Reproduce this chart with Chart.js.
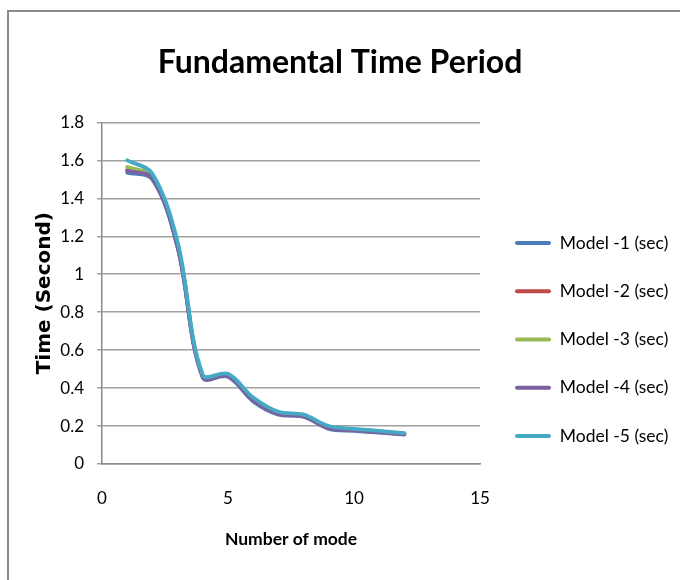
<!DOCTYPE html>
<html>
<head>
<meta charset="utf-8">
<script src="https://cdn.jsdelivr.net/npm/chart.js@4/dist/chart.umd.min.js"></script>
<style>
  html, body { margin: 0; padding: 0; background: #ffffff; }
  canvas { display: block; }
</style>
</head>
<body>
<canvas id="c" width="680" height="580"></canvas>
<script>
// ---------- data ----------
const TITLE = 'Fundamental Time Period';
const X_TITLE = 'Number of mode';
const Y_TITLE = 'Time (Second)';
const MODES = [1, 2, 3, 4, 5, 6, 7, 8, 9, 10, 11, 12];
const SERIES_NAMES = ['Model -1 (sec)', 'Model -2 (sec)', 'Model -3 (sec)', 'Model -4 (sec)', 'Model -5 (sec)'];
const MODEL_1 = [1.535, 1.50, 1.14, 0.455, 0.46, 0.33, 0.26, 0.25, 0.185, 0.175, 0.165, 0.155];
const MODEL_2 = [1.55, 1.51, 1.15, 0.46, 0.465, 0.34, 0.265, 0.255, 0.19, 0.18, 0.17, 0.158];
const MODEL_3 = [1.565, 1.515, 1.16, 0.465, 0.47, 0.345, 0.27, 0.255, 0.195, 0.18, 0.17, 0.16];
const MODEL_4 = [1.545, 1.505, 1.145, 0.46, 0.465, 0.335, 0.265, 0.25, 0.19, 0.178, 0.168, 0.157];
const MODEL_5 = [1.60, 1.53, 1.17, 0.47, 0.475, 0.35, 0.275, 0.26, 0.20, 0.185, 0.175, 0.162];
const X_TICKS = [0, 5, 10, 15];
const X_TICK_LABELS = ['0', '5', '10', '15'];
const Y_TICKS = [0, 0.2, 0.4, 0.6, 0.8, 1.0, 1.2, 1.4, 1.6, 1.8];
const Y_TICK_LABELS = ['0', '0.2', '0.4', '0.6', '0.8', '1', '1.2', '1.4', '1.6', '1.8'];

// ---------- styles ----------
const COLORS = ['#4A7EBB', '#BE4B48', '#98B954', '#7D60A0', '#46AAC5'];
const SANS = "Lato, 'DejaVu Sans Condensed', sans-serif";
const WIDE = "'DejaVu Sans', Verdana, sans-serif";

const SERIES = [MODEL_1, MODEL_2, MODEL_3, MODEL_4, MODEL_5];
const datasets = SERIES.map((vals, i) => ({
  label: SERIES_NAMES[i],
  data: MODES.map((m, j) => ({ x: m, y: vals[j] })),
  borderColor: COLORS[i],
  backgroundColor: COLORS[i],
  borderWidth: 3.8,
  borderCapStyle: 'round',
  borderJoinStyle: 'round',
  pointRadius: 0,
  showLine: true,
  tension: 0.35,
  order: SERIES.length - 1 - i
}));

const frame = {
  id: 'frame',
  beforeDraw(chart) {
    const ctx = chart.ctx;
    ctx.save();
    ctx.fillStyle = '#ffffff';
    ctx.fillRect(0, 0, chart.width, chart.height);
    ctx.strokeStyle = '#8a8a8a';
    ctx.lineWidth = 2;
    ctx.strokeRect(8, 11, 720, 620);
    ctx.restore();
  }
};

const LEGEND_FONT = 17.5;
const LEGEND_PAD = 30.75;
const legendPlace = {
  id: 'legendPlace',
  beforeLayout(chart) {
    const lg = chart.legend;
    if (lg && !lg._fixedFit) {
      const orig = lg.fit;
      lg.fit = function () { orig.call(this); this.width = 200; };
      lg._fixedFit = true;
    }
  },
  afterLayout(chart) {
    const lg = chart.legend;
    lg.left += 4.25; lg.right += 4.25;
    lg.top += 49.5; lg.bottom += 49.5;
  }
};

new Chart(document.getElementById('c'), {
  type: 'scatter',
  data: { datasets },
  plugins: [frame, legendPlace],
  options: {
    responsive: false,
    animation: false,
    devicePixelRatio: 1,
    layout: { padding: 0 },
    plugins: {
      title: {
        display: true,
        text: TITLE,
        color: '#000',
        font: { family: SANS, size: 32, weight: 'bold' },
        padding: { top: 43, bottom: 41 }
      },
      legend: {
        position: 'right',
        labels: {
          color: '#000',
          font: { family: SANS, size: LEGEND_FONT },
          boxWidth: 36,
          boxHeight: 4,
          padding: LEGEND_PAD,
          useBorderRadius: true,
          borderRadius: 2,
          sort: (a, b) => a.datasetIndex - b.datasetIndex,
          generateLabels(chart) {
            const items = Chart.defaults.plugins.legend.labels.generateLabels(chart);
            items.forEach(it => { it.lineWidth = 0; });
            return items;
          }
        }
      },
      tooltip: { enabled: false }
    },
    scales: {
      x: {
        type: 'linear',
        min: 0, max: 15,
        afterFit(s) { s.height = 116; },
        afterBuildTicks(s) { s.ticks = X_TICKS.map(v => ({ value: v })); },
        grid: { display: false, drawTicks: false },
        border: { display: true, color: '#8a8a8a', width: 1.5 },
        ticks: {
          color: '#000',
          font: { family: SANS, size: 17 },
          padding: 24,
          maxRotation: 0,
          callback: (v, i) => X_TICK_LABELS[i]
        },
        title: {
          display: true,
          text: X_TITLE,
          color: '#000',
          font: { family: SANS, size: 17.5, weight: 'bold' },
          padding: { top: 0, bottom: 30 }
        }
      },
      y: {
        type: 'linear',
        min: 0, max: 1.8,
        afterFit(s) { s.width = 102; },
        afterBuildTicks(s) { s.ticks = Y_TICKS.map(v => ({ value: v })); },
        grid: { color: '#a0a0a0', lineWidth: 1.5, drawTicks: true, tickLength: 5 },
        border: { display: true, color: '#8a8a8a', width: 1.5 },
        ticks: {
          color: '#000',
          font: { family: SANS, size: 17 },
          padding: 13,
          callback: (v, i) => Y_TICK_LABELS[i]
        },
        title: {
          display: true,
          text: Y_TITLE,
          color: '#000',
          font: { family: WIDE, size: 20, weight: 'bold' },
          padding: { top: 33, bottom: 0 }
        }
      }
    }
  }
});
</script>
</body>
</html>
